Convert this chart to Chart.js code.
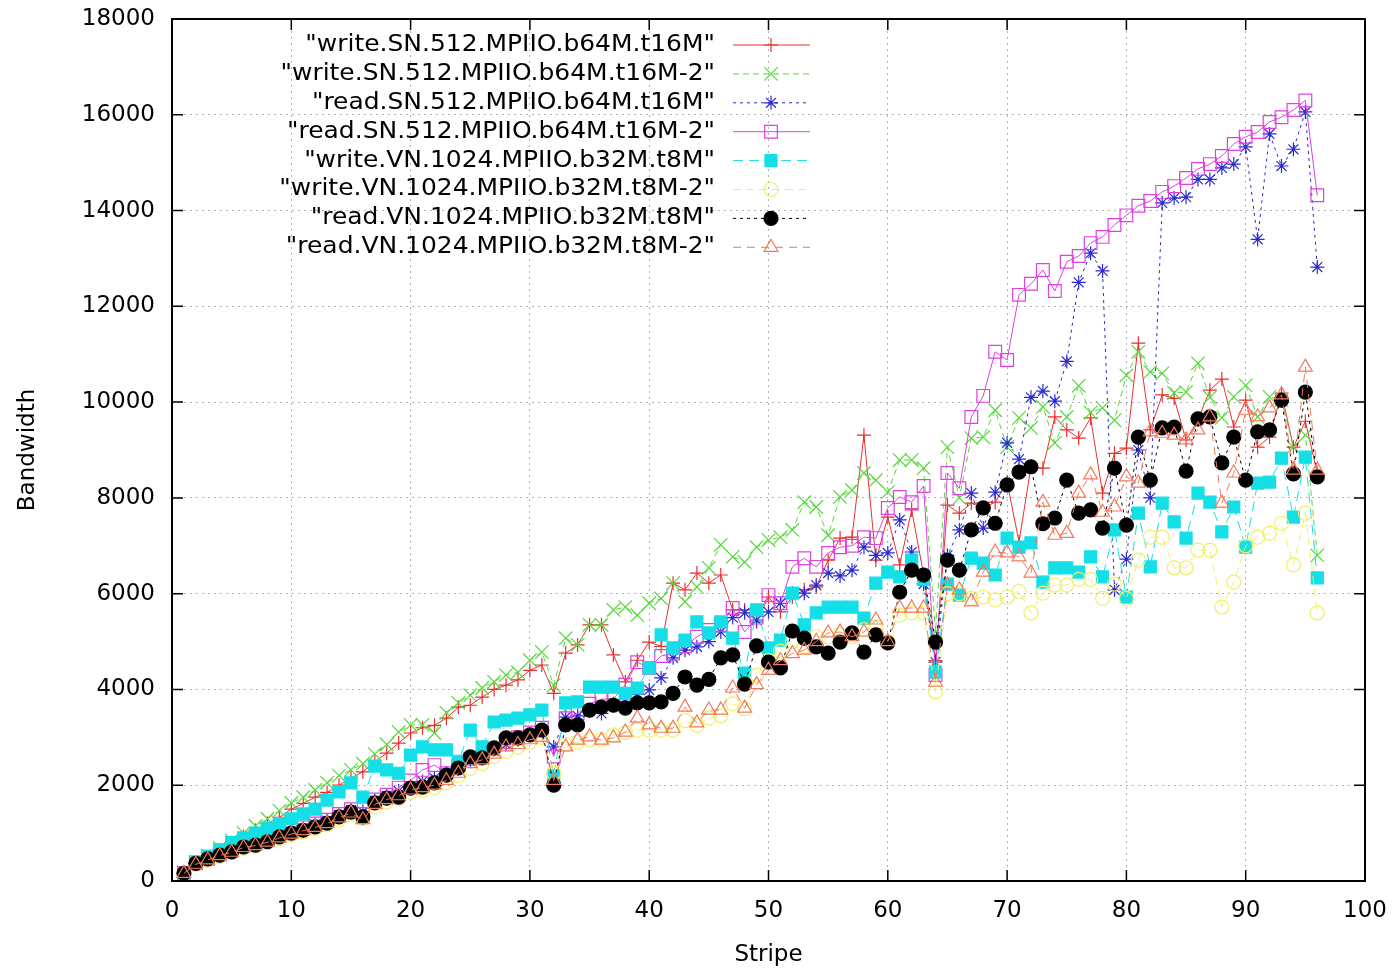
<!DOCTYPE html>
<html>
<head>
<meta charset="utf-8">
<script src="https://cdn.jsdelivr.net/npm/chart.js@4.4.1/dist/chart.umd.min.js"></script>
<style>
  html, body { margin: 0; padding: 0; background: #ffffff; }
  #wrap { position: relative; width: 1397px; height: 969px; }
</style>
</head>
<body>
<div id="wrap"><canvas id="c"></canvas></div>
<script>
const stripes = [1,2,3,4,5,6,7,8,9,10,11,12,13,14,15,16,17,18,19,20,21,22,23,24,25,26,27,28,29,30,31,32,33,34,35,36,37,38,39,40,41,42,43,44,45,46,47,48,49,50,51,52,53,54,55,56,57,58,59,60,61,62,63,64,65,66,67,68,69,70,71,72,73,74,75,76,77,78,79,80,81,82,83,84,85,86,87,88,89,90,91,92,93,94,95,96];

const seriesNames = [
  '"write.SN.512.MPIIO.b64M.t16M"',
  '"write.SN.512.MPIIO.b64M.t16M-2"',
  '"read.SN.512.MPIIO.b64M.t16M"',
  '"read.SN.512.MPIIO.b64M.t16M-2"',
  '"write.VN.1024.MPIIO.b32M.t8M"',
  '"write.VN.1024.MPIIO.b32M.t8M-2"',
  '"read.VN.1024.MPIIO.b32M.t8M"',
  '"read.VN.1024.MPIIO.b32M.t8M-2"'
];

const writeSN = [180,370,500,640,800,930,1060,1200,1330,1500,
  1620,1750,1850,2000,2150,2280,2490,2670,2880,3090,
  3200,3250,3400,3630,3670,3840,4000,4090,4200,4400,
  4510,3920,4760,4930,5350,5350,4720,4160,4610,4990,
  4900,6220,6080,6430,6220,6390,5660,5660,5410,5930,
  5620,5930,6080,6140,6700,7160,7180,9310,6700,7600,
  6600,7750,6400,4600,7850,7680,7890,7790,7910,8330,
  7080,8650,8620,9690,9420,9250,9670,8100,8930,9040,
  11230,9420,10150,10080,9210,9630,10250,10480,9480,10040,
  9060,9270,10190,9060,9600,8520];

const writeSN2 = [180,400,530,690,850,1000,1150,1300,1470,1630,
  1750,1900,2050,2200,2320,2450,2650,2850,3110,3260,
  3260,3090,3510,3720,3880,4030,4160,4300,4360,4610,
  4780,4090,5070,4930,5350,5350,5660,5720,5550,5800,
  5900,6220,5830,6140,6540,7020,6770,6660,6970,7120,
  7180,7330,7910,7810,7220,8020,8160,8520,8370,8120,
  8790,8790,8620,5200,9060,8000,9250,9270,9830,9060,
  9670,9460,9900,9150,9690,10340,9780,9880,9620,10560,
  11050,10630,10600,10190,10210,10810,10100,9670,10110,10350,
  9690,10110,10040,9060,9310,6800];

const readSN = [160,360,450,540,620,720,770,850,950,1030,
  1100,1180,1260,1380,1480,1450,1680,1780,1880,1980,
  2080,2150,2250,2350,2500,2600,2750,2850,2950,3050,
  3150,2800,3420,3450,3550,3500,3700,3750,3900,3990,
  4240,4660,4820,4890,5000,5200,5500,5600,5450,5620,
  5800,6010,6010,6180,6430,6370,6490,6970,6800,6850,
  7540,6870,6200,4570,6800,7330,8100,7370,8120,9150,
  8810,10100,10230,10020,10850,12500,13110,12740,6080,6720,
  9000,8000,14160,14260,14280,14650,14650,14890,14970,15330,
  13400,15600,14930,15280,16060,12820];

const readSN2 = [170,370,460,550,630,730,790,870,960,1050,
  1120,1200,1280,1400,1500,1400,1700,1800,1950,2100,
  2320,2420,2250,2400,2550,2600,2750,2900,3000,3100,
  3200,2600,3400,3500,3700,3800,3800,4100,4570,4450,
  4700,4750,4900,5100,5240,5350,5700,5200,5500,5970,
  5800,6560,6740,6560,6850,6970,7000,7180,7160,7790,
  8020,7910,8250,4300,8520,8200,9690,10130,11050,10880,
  12240,12470,12760,12320,12930,13050,13320,13450,13700,13900,
  14100,14200,14390,14510,14680,14870,14970,15140,15390,15540,
  15640,15850,15950,16100,16300,14320];

const writeVN = [150,400,520,650,800,900,1000,1100,1200,1300,
  1400,1500,1690,1860,2050,1750,2400,2320,2250,2630,
  2800,2740,2740,2500,3150,2800,3320,3360,3400,3470,
  3570,2200,3720,3740,4050,4050,4050,3920,4030,4450,
  5140,4870,5030,5410,5180,5410,5070,4340,5660,4870,
  5030,6010,5350,5600,5720,5720,5720,5490,6220,6450,
  6350,6700,6300,4360,6200,5970,6740,6640,6390,7160,
  6970,7060,6240,6540,6540,6450,6770,6350,7330,5930,
  7680,6560,7890,7500,7160,8100,7910,7290,7810,6970,
  8310,8330,8830,7600,8850,6330];

const writeVN2 = [150,350,430,510,590,680,730,800,880,960,
  1030,1100,1170,1280,1380,1300,1550,1650,1720,1850,
  1900,1950,2050,2200,2350,2450,2600,2700,2800,2900,
  3000,2250,2850,2900,2950,2950,3050,3100,3150,3150,
  3150,3150,3350,3250,3400,3450,3700,3600,4300,4600,
  4800,5000,4900,5100,5100,5150,5100,5250,5300,5000,
  5550,5600,5600,3950,6000,6000,5900,5930,5870,5930,
  6050,5600,6010,6180,6180,6300,6300,5900,6200,5900,
  6700,7180,7180,6540,6540,6910,6910,5720,6240,7000,
  7180,7260,7470,6600,7680,5600];

const readVN = [160,370,460,540,610,710,750,820,920,1000,
  1060,1130,1210,1340,1440,1340,1630,1730,1750,1940,
  1960,2050,2210,2360,2590,2570,2780,2990,2990,3050,
  3150,2000,3260,3260,3570,3630,3670,3610,3720,3720,
  3740,3920,4260,4090,4210,4660,4720,4110,4910,4570,
  4450,5220,5070,4890,4760,4990,5180,4780,5140,4970,
  6030,6490,6390,4990,6700,6490,7330,7790,7470,8270,
  8540,8650,7460,7580,8370,7680,7750,7370,8620,7430,
  9270,8370,9460,9480,8560,9650,9690,8730,9270,8370,
  9380,9420,10040,8500,10210,8440];

const readVN2 = [160,350,440,530,600,700,740,810,900,980,
  1050,1120,1200,1320,1420,1280,1600,1700,1780,1900,
  1950,2000,2100,2250,2450,2530,2650,2800,2850,2950,
  3000,2100,2800,2940,3010,2940,2990,3110,3400,3260,
  3190,3190,3630,3300,3570,3570,4030,3610,4100,4400,
  4600,4750,4820,5000,5180,5200,5100,5200,5450,5000,
  5700,5700,5700,4150,6180,6080,5830,6450,6870,6850,
  6770,6430,7910,7220,7260,8100,8480,7700,7810,8440,
  8310,9380,9350,9310,9210,9420,9690,7890,8520,9830,
  9690,9880,10150,8580,10730,8580];

const xTicks = [0,10,20,30,40,50,60,70,80,90,100];
const yTicks = [0,2000,4000,6000,8000,10000,12000,14000,16000,18000];

const seriesValues = [writeSN, writeSN2, readSN, readSN2, writeVN, writeVN2, readVN, readVN2];

const styles = [
  {color:'#e8302e', fill:'#e8302e', point:'cross',    radius:7,   dash:[]},
  {color:'#55d83a', fill:'#55d83a', point:'crossRot', radius:9.5, dash:[6,4]},
  {color:'#2a2ad0', fill:'#2a2ad0', point:'star',     radius:7,   dash:[3,4]},
  {color:'#e040e0', fill:'rgba(0,0,0,0)', point:'rect', radius:9, dash:[]},
  {color:'#14dfe6', fill:'#14dfe6', point:'rect',     radius:8.5, dash:[10,6]},
  {color:'#f2ee6a', fill:'rgba(0,0,0,0)', point:'circle', radius:7, dash:[8,5]},
  {color:'#000000', fill:'#000000', point:'circle',   radius:7,   dash:[3,4]},
  {color:'#ef7a5c', fill:'rgba(0,0,0,0)', point:'triangle', radius:8, dash:[8,6]}
];

const datasets = seriesNames.map((name, i) => ({
  label: name,
  data: stripes.map((s, k) => ({x: s, y: seriesValues[i][k]})),
  borderColor: styles[i].color,
  backgroundColor: styles[i].fill,
  borderWidth: 1,
  borderDash: styles[i].dash,
  pointStyle: styles[i].point,
  pointRadius: styles[i].radius,
  pointBorderColor: styles[i].color,
  pointBackgroundColor: styles[i].fill,
  pointBorderWidth: 1.2,
  tension: 0,
  fill: false,
  order: seriesNames.length - i
}));

const FONT = '"DejaVu Sans", "Liberation Sans", sans-serif';

const keyPlugin = {
  id: 'gpKey',
  afterDatasetsDraw(chart) {
    const ctx = chart.ctx;
    chart.data.datasets.forEach((ds, i) => {
      const y = 45 + i * 28.9;
      ctx.save();
      ctx.font = '23px ' + FONT;
      ctx.fillStyle = '#000';
      ctx.textAlign = 'right';
      ctx.textBaseline = 'middle';
      ctx.save();
      ctx.translate(715, y);
      ctx.scale(1.085, 1);
      ctx.fillText(ds.label, 0, 0);
      ctx.restore();
      ctx.strokeStyle = ds.borderColor;
      ctx.lineWidth = 1;
      ctx.setLineDash(ds.borderDash || []);
      ctx.beginPath();
      ctx.moveTo(733, y);
      ctx.lineTo(810, y);
      ctx.stroke();
      ctx.setLineDash([]);
      ctx.strokeStyle = ds.pointBorderColor;
      ctx.fillStyle = ds.pointBackgroundColor;
      ctx.lineWidth = ds.pointBorderWidth;
      if (Chart.helpers && Chart.helpers.drawPoint) {
        Chart.helpers.drawPoint(ctx, {pointStyle: ds.pointStyle, radius: ds.pointRadius, borderWidth: ds.pointBorderWidth, rotation: 0}, 771, y);
      }
      ctx.restore();
    });
  }
};

const framePlugin = {
  id: 'gpFrame',
  afterDraw(chart) {
    const {ctx, chartArea: a, scales} = chart;
    const xs = scales.x, ys = scales.y;
    ctx.save();
    ctx.strokeStyle = '#000';
    ctx.lineWidth = 1.5;
    ctx.beginPath();
    yTicks.forEach(v => {
      const py = ys.getPixelForValue(v);
      ctx.moveTo(a.left, py); ctx.lineTo(a.left + 11, py);
      ctx.moveTo(a.right, py); ctx.lineTo(a.right - 11, py);
    });
    xTicks.forEach(v => {
      const px = xs.getPixelForValue(v);
      ctx.moveTo(px, a.bottom); ctx.lineTo(px, a.bottom - 11);
      ctx.moveTo(px, a.top); ctx.lineTo(px, a.top + 11);
    });
    ctx.stroke();
    ctx.lineWidth = 2;
    ctx.strokeRect(a.left, a.top, a.right - a.left, a.bottom - a.top);
    ctx.restore();
  }
};

new Chart(document.getElementById('c'), {
  type: 'line',
  data: { datasets },
  plugins: [keyPlugin, framePlugin],
  options: {
    responsive: true,
    maintainAspectRatio: false,
    animation: false,
    layout: { padding: { top: 19, right: 32, left: 0, bottom: 0 } },
    plugins: { legend: { display: false }, tooltip: { enabled: false } },
    scales: {
      x: {
        type: 'linear',
        min: 0, max: 100,
        afterBuildTicks: (s) => { s.ticks = xTicks.map(v => ({value: v})); },
        afterFit: (s) => { s.height = 88; s.paddingLeft = 0; s.paddingRight = 0; },
        ticks: { color: '#000', font: { family: FONT, size: 23 }, padding: 16, maxRotation: 0, callback: (v) => String(v) },
        grid: { color: '#b0b0b0', lineWidth: 1, drawTicks: false },
        border: { display: false, dash: [2, 4] },
        title: { display: true, text: 'Stripe', color: '#000', font: { family: FONT, size: 23 }, padding: { top: 0, bottom: 0 } }
      },
      y: {
        type: 'linear',
        min: 0, max: 18000,
        afterBuildTicks: (s) => { s.ticks = yTicks.map(v => ({value: v})); },
        afterFit: (s) => { s.width = 172; s.paddingTop = 0; s.paddingBottom = 0; },
        ticks: { color: '#000', font: { family: FONT, size: 23 }, padding: 17, callback: (v) => String(v) },
        grid: { color: '#b0b0b0', lineWidth: 1, drawTicks: false },
        border: { display: false, dash: [2, 4] },
        title: { display: true, text: 'Bandwidth', color: '#000', font: { family: FONT, size: 23 }, padding: { top: 14, bottom: 0 } }
      }
    }
  }
});
</script>
</body>
</html>
